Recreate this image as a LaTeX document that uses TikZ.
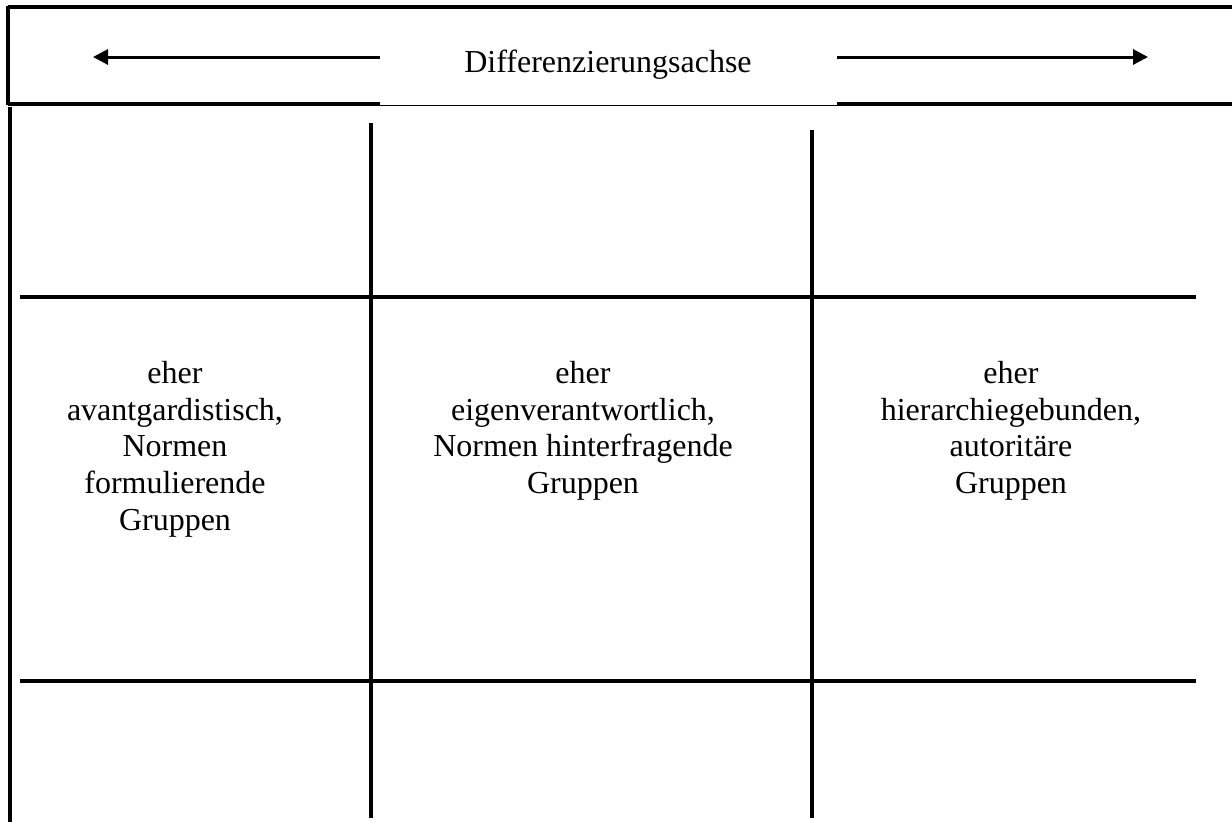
\documentclass[tikz,border=0pt]{standalone}
\usepackage{fontspec}
\setmainfont{Liberation Serif}
\usetikzlibrary{positioning,arrows.meta}

\begin{document}
\begin{tikzpicture}[x=0.5pt,y=-0.5pt,
    rule/.style={line width=1.6pt},
    thinrule/.style={line width=0.6pt},
    axisarrow/.style={line width=1.5pt,-{Triangle[length=7.5pt,width=7.5pt]}},
    celltext/.style={align=center,inner sep=0pt,font=\fontsize{16}{18.3}\selectfont}]
      \useasboundingbox (0,0) rectangle (1232,821);
      %% header box
      \draw [rule] (8,7)-- (1240,7);
      \draw [rule] (8,6)-- (8,105);
      \draw [rule] (8,104)-- (380,104);
      \draw [thinrule] (380,105.5)-- (837,105.5);
      \draw [rule] (837,104)-- (1240,104);
      \node [celltext,anchor=base] (achse) at (608,72) {Differenzierungsachse};
      \coordinate (leftend) at (380,57);
      \coordinate (lefttip) at (93,57);
      \coordinate (rightend) at (837,57);
      \coordinate (righttip) at (1148,57);
      \draw [axisarrow] (leftend)-- (lefttip);
      \draw [axisarrow] (rightend)-- (righttip);
      %% table
      \draw [rule] (10,107)-- (10,830);
      \draw [rule] (371,123)-- (371,818);
      \draw [rule] (812,130)-- (812,818);
      \draw [rule] (20,297)-- (1196,297);
      \draw [rule] (20,681)-- (1196,681);
      \node [celltext,anchor=north] (avant) at (175,361) {eher\\avantgardistisch,\\Normen\\formulierende\\Gruppen};
      \node [celltext,anchor=north] (eigen) at (583,361) {eher\\eigenverantwortlich,\\Normen hinterfragende\\Gruppen};
      \node [celltext,anchor=north] (hierarchie) at (1011,361) {eher\\hierarchiegebunden,\\autoritäre\\Gruppen};
  \end{tikzpicture}
\end{document}
